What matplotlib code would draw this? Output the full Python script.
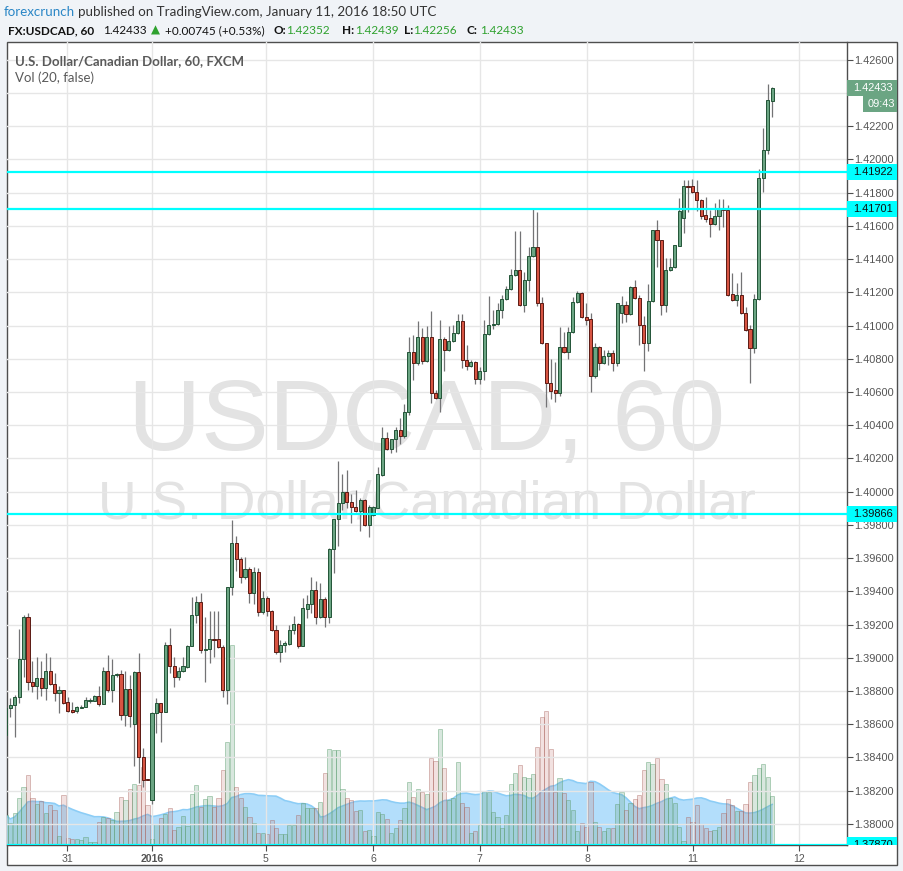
import numpy as np
import pandas as pd
import matplotlib
matplotlib.use("Agg")
import matplotlib.pyplot as plt
import matplotlib.transforms as mtransforms
from matplotlib.colors import to_rgba
from matplotlib.patches import Rectangle

# hourly USDCAD bars, Dec 30 2015 -> Jan 11 2016 18:00 UTC
opens = [
    1.38536, 1.38698, 1.38714, 1.38765, 1.38994, 1.39247, 1.38855, 1.38831, 1.38879, 1.38819,
    1.38921, 1.38843, 1.38789, 1.38807, 1.38734, 1.38686, 1.38680, 1.38700, 1.38704, 1.38741,
    1.38741, 1.38771, 1.38722, 1.38921, 1.38807, 1.38897, 1.38903, 1.38656, 1.38813, 1.38602,
    1.38915, 1.38403, 1.38270, 1.38144, 1.38668, 1.38728, 1.38674, 1.39078, 1.38951, 1.38885,
    1.38921, 1.38946, 1.39072, 1.39259, 1.39337, 1.39048, 1.39054, 1.39114, 1.39114, 1.39066,
    1.38807, 1.39428, 1.39693, 1.39596, 1.39488, 1.39536, 1.39391, 1.39518, 1.39277, 1.39361,
    1.39283, 1.39168, 1.39036, 1.39074, 1.39086, 1.39168, 1.39205, 1.39072, 1.39295, 1.39325,
    1.39410, 1.39247, 1.39355, 1.39247, 1.39657, 1.39838, 1.39934, 1.40000, 1.39940, 1.39910,
    1.39886, 1.39952, 1.39801, 1.39862, 1.39904, 1.40103, 1.40326, 1.40259, 1.40320, 1.40374,
    1.40338, 1.40482, 1.40838, 1.40772, 1.40929, 1.40784, 1.40929, 1.40597, 1.40561, 1.40917,
    1.40850, 1.40910, 1.40953, 1.41025, 1.40790, 1.40754, 1.40778, 1.40681, 1.40724, 1.40947,
    1.41001, 1.41007, 1.41091, 1.41158, 1.41218, 1.41302, 1.41332, 1.41121, 1.41272, 1.41417,
    1.41471, 1.41134, 1.40892, 1.40657, 1.40615, 1.40597, 1.40868, 1.40838, 1.40959, 1.41140,
    1.41194, 1.41049, 1.41037, 1.40694, 1.40868, 1.40772, 1.40814, 1.40832, 1.40772, 1.41073,
    1.41121, 1.41067, 1.41230, 1.41164, 1.41001, 1.40892, 1.41146, 1.41574, 1.41513, 1.41121,
    1.41332, 1.41350, 1.41477, 1.41646, 1.41839, 1.41839, 1.41803, 1.41754, 1.41664, 1.41646,
    1.41610, 1.41658, 1.41700, 1.41694, 1.41188, 1.41152, 1.41182, 1.41073, 1.40977, 1.40862,
    1.41158, 1.41887, 1.42056, 1.42352,
]
highs = [
    1.38716, 1.38759, 1.38777, 1.39175, 1.39259, 1.39271, 1.38982, 1.39006, 1.38982, 1.39030,
    1.39006, 1.38909, 1.38831, 1.38807, 1.38765, 1.38734, 1.38710, 1.38716, 1.38765, 1.38759,
    1.38777, 1.38831, 1.38946, 1.39018, 1.38994, 1.38909, 1.38927, 1.38921, 1.38897, 1.38921,
    1.39030, 1.38457, 1.38270, 1.38674, 1.38759, 1.38728, 1.39096, 1.39181, 1.39006, 1.38946,
    1.39006, 1.39078, 1.39367, 1.39373, 1.39391, 1.39247, 1.39283, 1.39283, 1.39283, 1.39078,
    1.39428, 1.39831, 1.39735, 1.39608, 1.39608, 1.39548, 1.39548, 1.39542, 1.39403, 1.39373,
    1.39289, 1.39199, 1.39108, 1.39102, 1.39199, 1.39253, 1.39211, 1.39361, 1.39379, 1.39488,
    1.39464, 1.39452, 1.39367, 1.39663, 1.39838, 1.40187, 1.40109, 1.40133, 1.39988, 1.40012,
    1.39964, 1.39958, 1.39922, 1.39916, 1.40151, 1.40392, 1.40362, 1.40320, 1.40392, 1.40446,
    1.40525, 1.40929, 1.40941, 1.41025, 1.40983, 1.40995, 1.41085, 1.40615, 1.41031, 1.40929,
    1.40995, 1.41001, 1.41067, 1.41067, 1.40880, 1.40790, 1.40784, 1.40748, 1.41031, 1.41176,
    1.41091, 1.41134, 1.41182, 1.41236, 1.41338, 1.41567, 1.41567, 1.41320, 1.41471, 1.41700,
    1.41682, 1.41170, 1.40892, 1.40796, 1.40778, 1.40989, 1.40959, 1.40989, 1.41170, 1.41206,
    1.41200, 1.41134, 1.41073, 1.40898, 1.40874, 1.40850, 1.40850, 1.40850, 1.41134, 1.41176,
    1.41146, 1.41236, 1.41272, 1.41182, 1.41055, 1.41248, 1.41574, 1.41634, 1.41513, 1.41405,
    1.41405, 1.41483, 1.41766, 1.41875, 1.41875, 1.41881, 1.41875, 1.41760, 1.41773, 1.41694,
    1.41736, 1.41760, 1.41760, 1.41724, 1.41314, 1.41254, 1.41320, 1.41109, 1.41001, 1.41188,
    1.41941, 1.42188, 1.42454, 1.42439,
]
lows = [
    1.38524, 1.38644, 1.38524, 1.38728, 1.38885, 1.38807, 1.38795, 1.38753, 1.38771, 1.38747,
    1.38837, 1.38741, 1.38668, 1.38722, 1.38674, 1.38668, 1.38668, 1.38698, 1.38704, 1.38728,
    1.38741, 1.38710, 1.38722, 1.38795, 1.38734, 1.38885, 1.38626, 1.38590, 1.38584, 1.38349,
    1.38246, 1.38222, 1.38264, 1.38120, 1.38548, 1.38493, 1.38674, 1.38909, 1.38825, 1.38867,
    1.38915, 1.38939, 1.39072, 1.39211, 1.39030, 1.38855, 1.38970, 1.39006, 1.39060, 1.38765,
    1.38722, 1.39379, 1.39524, 1.39452, 1.39476, 1.39331, 1.39325, 1.39253, 1.39265, 1.39253,
    1.39162, 1.39024, 1.38976, 1.39036, 1.39078, 1.39144, 1.39060, 1.39072, 1.39241, 1.39271,
    1.39205, 1.39241, 1.39187, 1.39211, 1.39512, 1.39675, 1.39892, 1.39904, 1.39813, 1.39880,
    1.39765, 1.39795, 1.39729, 1.39856, 1.39904, 1.40097, 1.40253, 1.40235, 1.40241, 1.40284,
    1.40326, 1.40464, 1.40675, 1.40760, 1.40766, 1.40778, 1.40531, 1.40555, 1.40482, 1.40724,
    1.40844, 1.40904, 1.40947, 1.40742, 1.40730, 1.40748, 1.40651, 1.40651, 1.40675, 1.40941,
    1.40977, 1.41001, 1.41043, 1.41152, 1.41212, 1.41296, 1.41115, 1.41079, 1.41206, 1.41411,
    1.41115, 1.40886, 1.40507, 1.40555, 1.40537, 1.40573, 1.40832, 1.40796, 1.40953, 1.41134,
    1.41043, 1.41001, 1.40603, 1.40687, 1.40730, 1.40766, 1.40760, 1.40724, 1.40754, 1.41013,
    1.41019, 1.41061, 1.41158, 1.40880, 1.40724, 1.40844, 1.41140, 1.41350, 1.41061, 1.41079,
    1.41326, 1.41344, 1.41477, 1.41555, 1.41682, 1.41797, 1.41688, 1.41640, 1.41622, 1.41531,
    1.41604, 1.41574, 1.41592, 1.41176, 1.41146, 1.41115, 1.41067, 1.40965, 1.40657, 1.40832,
    1.41152, 1.41803, 1.42032, 1.42256,
]
closes = [
    1.38698, 1.38716, 1.38765, 1.38994, 1.39247, 1.38855, 1.38831, 1.38879, 1.38819, 1.38921,
    1.38843, 1.38789, 1.38807, 1.38728, 1.38680, 1.38674, 1.38704, 1.38704, 1.38747, 1.38747,
    1.38771, 1.38722, 1.38921, 1.38807, 1.38897, 1.38903, 1.38656, 1.38813, 1.38650, 1.38915,
    1.38403, 1.38264, 1.38264, 1.38668, 1.38728, 1.38674, 1.39078, 1.38951, 1.38885, 1.38921,
    1.38951, 1.39072, 1.39259, 1.39337, 1.39048, 1.39054, 1.39114, 1.39108, 1.39066, 1.38807,
    1.39428, 1.39693, 1.39596, 1.39488, 1.39536, 1.39391, 1.39518, 1.39277, 1.39361, 1.39283,
    1.39168, 1.39036, 1.39078, 1.39090, 1.39168, 1.39205, 1.39072, 1.39301, 1.39325, 1.39410,
    1.39247, 1.39355, 1.39247, 1.39657, 1.39838, 1.39934, 1.40000, 1.39940, 1.39910, 1.39886,
    1.39952, 1.39801, 1.39910, 1.39910, 1.40109, 1.40326, 1.40259, 1.40320, 1.40374, 1.40338,
    1.40482, 1.40838, 1.40772, 1.40929, 1.40784, 1.40929, 1.40597, 1.40561, 1.40917, 1.40850,
    1.40910, 1.40953, 1.41025, 1.40790, 1.40754, 1.40778, 1.40681, 1.40724, 1.40947, 1.41001,
    1.41007, 1.41091, 1.41158, 1.41218, 1.41302, 1.41332, 1.41121, 1.41272, 1.41417, 1.41471,
    1.41134, 1.40892, 1.40657, 1.40609, 1.40597, 1.40868, 1.40838, 1.40959, 1.41140, 1.41194,
    1.41049, 1.41034, 1.40694, 1.40868, 1.40772, 1.40814, 1.40832, 1.40772, 1.41134, 1.41121,
    1.41067, 1.41230, 1.41164, 1.41001, 1.40892, 1.41146, 1.41574, 1.41513, 1.41121, 1.41332,
    1.41350, 1.41483, 1.41688, 1.41839, 1.41833, 1.41803, 1.41754, 1.41658, 1.41640, 1.41610,
    1.41658, 1.41700, 1.41694, 1.41182, 1.41152, 1.41182, 1.41073, 1.40971, 1.40862, 1.41158,
    1.41887, 1.42056, 1.42357, 1.42433,
]
volumes = [
    30, 22, 32, 47, 58, 70, 47, 41, 44, 32, 40, 35, 9, 50, 7, 6, 6, 5, 8, 3,
    3, 23, 28, 27, 25, 33, 48, 45, 56, 61, 60, 78, 40, 6, 21, 27, 31, 37, 15, 18,
    29, 19, 51, 60, 38, 46, 49, 38, 47, 75, 103, 200, 58, 47, 38, 28, 22, 12, 12, 11,
    25, 17, 11, 11, 20, 20, 30, 42, 37, 37, 37, 43, 72, 96, 95, 95, 56, 47, 45, 34,
    35, 14, 15, 9, 33, 31, 26, 12, 17, 25, 37, 63, 48, 56, 53, 51, 87, 84, 116, 77,
    45, 47, 83, 42, 38, 12, 14, 20, 54, 53, 33, 28, 17, 30, 61, 72, 80, 68, 67, 71,
    98, 128, 134, 96, 53, 67, 52, 45, 35, 14, 22, 18, 63, 23, 18, 14, 17, 17, 41, 53,
    35, 42, 46, 50, 75, 83, 81, 87, 66, 61, 47, 42, 18, 4, 28, 23, 40, 21, 17, 14,
    15, 18, 32, 46, 40, 34, 34, 41, 63, 70, 77, 81, 68, 49,
]

day_ticks = [13.8, 33.0, 58.7, 82.9, 107.0, 131.2, 155.1, 179.0]
day_labels = ["31", "2016", "5", "6", "7", "8", "11", "12"]
price_ticks = np.arange(1.380, 1.42601, 0.002)
level_lines = [1.41922, 1.41701, 1.39866, 1.37870]
last_price = 1.42433
countdown = "09:43"

up_body, up_edge = "#6ba583", "#225437"
dn_body, dn_edge = "#d75442", "#5b1a13"
wick_col = "#737375"
cyan = "#00ffff"
axis_col = "#4e4e4e"
label_col = "#555555"

W, H = 904, 871
fig = plt.figure(figsize=(W / 100, H / 100), dpi=100, facecolor="#f0f3f7")


def fx(px):
    return px / W


def fy(py):
    return 1 - py / H


# white pane with dark border (chart + price scale + time scale)
fig.add_artist(Rectangle((fx(7), fy(865)), fx(897) - fx(7), fy(42) - fy(865),
                         transform=fig.transFigure, fc="white", ec=axis_col,
                         lw=1, zorder=-5))

rect = [fx(7), fy(845), fx(847) - fx(7), fy(42) - fy(845)]
axv = fig.add_axes(rect)
ax = fig.add_axes(rect)

xlim = (0.26, 189.9)
ylim = (1.37873, 1.42707)
x = np.arange(len(closes))
o, h, l, c = (np.array(a) for a in (opens, highs, lows, closes))
up = c >= o

# ---- volume pane (underneath) ----
axv.set_xlim(*xlim)
axv.set_ylim(0, max(volumes) / 0.249)
axv.axis("off")
axv.patch.set_visible(False)
vol_ma = pd.Series(volumes).rolling(20, min_periods=1).mean()
axv.fill_between(x, 0, vol_ma, color="#b3defb", lw=0, zorder=1)
axv.plot(x, vol_ma, color="#8ccdf6", lw=1.2, zorder=2)
vfc = [to_rgba(up_body, 0.26) if u else to_rgba("#c87a72", 0.22) for u in up]
vec = [to_rgba("#5f9f72", 0.45) if u else to_rgba("#a8605a", 0.4) for u in up]
axv.bar(x, volumes, width=0.95, color=vfc, edgecolor=vec, linewidth=0.7, zorder=3)

# watermark
axv.text(0.5, 0.492, "USDCAD, 60", transform=axv.transAxes, ha="center",
         va="baseline", fontsize=73, color="#e3e3e3", family="Liberation Sans", zorder=0)
axv.text(0.5, 0.407, "U.S. Dollar/Canadian Dollar", transform=axv.transAxes,
         ha="center", va="baseline", fontsize=38.5, color="#e3e3e3",
         family="Liberation Sans", zorder=0)

# ---- price pane ----
ax.patch.set_visible(False)
ax.set_xlim(*xlim)
ax.set_ylim(*ylim)
ax.set_yticks(price_ticks)
# the tick under the last-price marker is hidden by it on the original
ylabels = ["" if abs(t - last_price) < 0.0006 else f"{t:.5f}" for t in price_ticks]
ax.set_yticklabels(ylabels, family="Liberation Sans")
ax.set_xticks(day_ticks)
ax.set_xticklabels(day_labels, family="Liberation Sans")
for t in ax.get_xticklabels():
    if t.get_text() == "2016":
        t.set_fontweight("bold")
ax.yaxis.tick_right()
ax.grid(True, color="#e6e6e6", lw=1)
ax.set_axisbelow(True)
ax.tick_params(axis="y", length=4, width=0.8, color=axis_col, labelsize=7.9,
               labelcolor=label_col, pad=1.5)
ax.tick_params(axis="x", length=4, width=0.8, color=axis_col, labelsize=7.6,
               labelcolor=label_col, pad=2.5)
for s in ("top", "left"):
    ax.spines[s].set_visible(False)
for s in ("right", "bottom"):
    ax.spines[s].set_color(axis_col)
    ax.spines[s].set_linewidth(1)

ax.vlines(x, l, h, color=wick_col, lw=0.9, zorder=3)
body_lo = np.minimum(o, c)
body_h = np.maximum(np.abs(c - o), 0.000025)
ax.bar(x, body_h, bottom=body_lo, width=0.7,
       color=[up_body if u else dn_body for u in up],
       edgecolor=[up_edge if u else dn_edge for u in up],
       linewidth=0.7, zorder=4)

for lvl in level_lines:
    ax.axhline(lvl, color=cyan, lw=1.6, zorder=5)

# ---- labels on the price scale ----
blend = mtransforms.blended_transform_factory(ax.transAxes, ax.transData)
px_per_price = 803 / (ylim[1] - ylim[0])
column = mtransforms.TransformedBbox(mtransforms.Bbox([[1.0, 0.0], [1.07, 1.0]]),
                                     ax.transAxes)


def scale_label(price, text, fc, tc, x0=847, x1=897, dy=0):
    yc = price - dy / px_per_price
    box = Rectangle(((x0 - 7) / 840, yc - 8 / px_per_price), (x1 - x0) / 840,
                    16 / px_per_price, transform=blend, fc=fc, ec="none", zorder=6)
    ax.add_patch(box)
    box.set_clip_path(None)
    box.set_clip_box(column)
    t = ax.text((x0 - 7 + (x1 - x0) / 2 + 1) / 840, yc, text, transform=blend,
                ha="center", va="center", fontsize=7.9, color=tc,
                family="Liberation Sans", zorder=7)
    t.set_clip_box(column)
    t.set_clip_on(True)


scale_label(last_price, f"{last_price:.5f}", up_body, "white")
scale_label(last_price, countdown, up_body, "white", x0=863, dy=16.5)
for lvl in level_lines:
    scale_label(lvl, f"{lvl:.5f}", cyan, "#111111")

# ---- header and legend texts ----
hf = "Lato"


def ftext(px, py, s, **kw):
    kw.setdefault("family", hf)
    fig.text(fx(px), fy(py), s, va="baseline", ha="left", **kw)


ftext(4, 16, "forexcrunch", fontsize=9.6, color="#2a86c6")
ftext(78, 16, "published on TradingView.com, January 11, 2016 18:50 UTC",
      fontsize=9.6, color="#333333")
green_txt = "#2ea12e"
fs2 = 8.5
ftext(7.5, 34, "FX:USDCAD, 60", fontsize=fs2, color="#111111", fontweight="bold")
ftext(103, 34, "1.42433", fontsize=fs2, color="#111111")
ftext(151, 34, "\u25b2", fontsize=8.5, color=green_txt, family="DejaVu Sans")
ftext(165, 34, "+0.00745 (+0.53%)", fontsize=fs2, color="#111111")
for lab, lx, val, vx in (("O:", 274, "1.42352", 286), ("H:", 342, "1.42439", 355),
                          ("L:", 404, "1.42256", 413), ("C:", 467, "1.42433", 480)):
    ftext(lx, 34, lab, fontsize=fs2, color="#111111", fontweight="bold")
    ftext(vx, 34, val, fontsize=fs2, color=green_txt)

ftext(15, 65.3, "U.S. Dollar/Canadian Dollar, 60, FXCM", fontsize=9.5,
      color="#5a5a5a", fontweight="bold")
ftext(15, 81.7, "Vol (20, false)", fontsize=9.5, color="#5a5a5a")

fig.savefig("out.png", dpi=100, facecolor=fig.get_facecolor())
